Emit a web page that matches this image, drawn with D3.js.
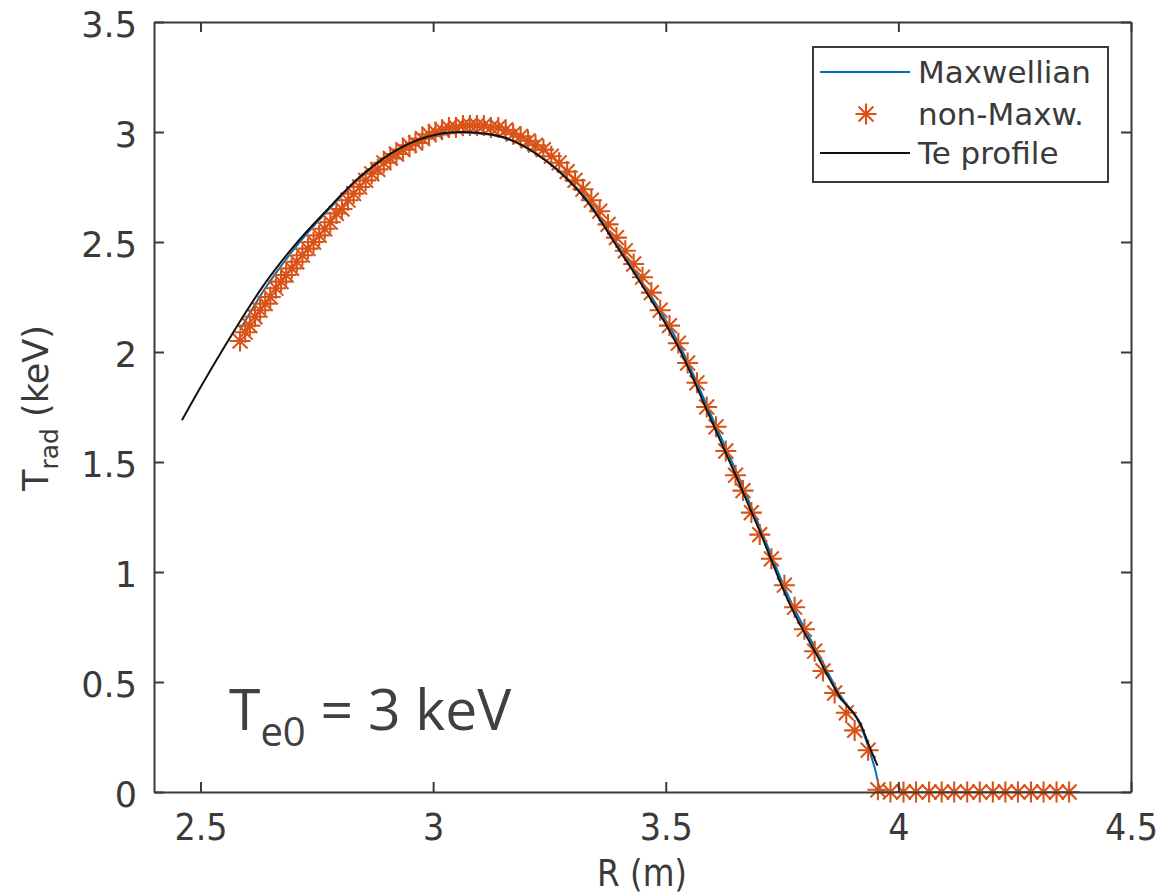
<!DOCTYPE html>
<html>
<head>
<meta charset="utf-8">
<script src="https://cdn.jsdelivr.net/npm/d3@7"></script>
<style>
  body { margin: 0; background: #fff; }
</style>
</head>
<body>
<div id="chart"></div>
<script>
// tick labels
var xTicks = [2.5, 3, 3.5, 4, 4.5];
var yTicks = [0, 0.5, 1, 1.5, 2, 2.5, 3, 3.5];

// Te profile (black line)
var teR = [2.46, 2.50, 2.556, 2.60, 2.628, 2.699, 2.771, 2.842, 2.914, 2.986, 3.03, 3.064, 3.10, 3.15,
  3.222, 3.272, 3.329, 3.401, 3.45, 3.53, 3.60, 3.655, 3.701, 3.766, 3.823, 3.874, 3.92, 3.938, 3.955];
var teT = [1.69, 1.84, 2.04, 2.19, 2.28, 2.477, 2.644, 2.795, 2.909, 2.977, 2.997, 3.0, 2.995, 2.977,
  2.90, 2.818, 2.69, 2.46, 2.30, 2.01, 1.68, 1.417, 1.19, 0.856, 0.629, 0.432, 0.303, 0.205, 0.12];

// Maxwellian (blue line)
var maxR = [2.585, 2.63, 2.70, 2.77, 2.84, 2.91, 2.99, 3.06, 3.10, 3.15, 3.22, 3.27, 3.33, 3.40, 3.45,
  3.53, 3.60, 3.655, 3.70, 3.77, 3.825, 3.875, 3.92, 3.949, 3.962, 3.975];
var maxT = [2.10, 2.26, 2.465, 2.635, 2.785, 2.90, 2.972, 2.998, 2.993, 2.975, 2.905, 2.825, 2.695, 2.475, 2.315,
  2.03, 1.70, 1.44, 1.215, 0.86, 0.64, 0.44, 0.295, 0.11, 0.01, 0];

// non-Maxwellian (stars)
var nmR = [2.585, 2.596, 2.606, 2.617, 2.628, 2.639, 2.650, 2.662, 2.673, 2.684, 2.696, 2.707, 2.719, 2.731,
  2.743, 2.755, 2.767, 2.779, 2.792, 2.804, 2.817, 2.829, 2.842, 2.855, 2.868, 2.881, 2.894, 2.908, 2.921,
  2.935, 2.949, 2.962, 2.977, 2.991, 3.005, 3.019, 3.034, 3.049, 3.064, 3.079, 3.094, 3.109, 3.124, 3.140,
  3.156, 3.172, 3.188, 3.204, 3.220, 3.237, 3.254, 3.271, 3.288, 3.305, 3.322, 3.340, 3.358, 3.376, 3.394,
  3.413, 3.431, 3.450, 3.469, 3.488, 3.508, 3.527, 3.547, 3.567, 3.588, 3.608, 3.629, 3.650, 3.666, 3.684,
  3.702, 3.727, 3.755, 3.777, 3.798, 3.820, 3.838, 3.863, 3.888, 3.906, 3.935, 3.956, 3.983, 4.011, 4.038,
  4.066, 4.093, 4.120, 4.148, 4.175, 4.203, 4.230, 4.257, 4.285, 4.312, 4.340, 4.367];
var nmT = [2.05, 2.09, 2.12, 2.16, 2.19, 2.22, 2.25, 2.29, 2.32, 2.35, 2.38, 2.41, 2.44, 2.47,
  2.50, 2.53, 2.56, 2.59, 2.63, 2.65, 2.69, 2.72, 2.75, 2.78, 2.81, 2.83, 2.86, 2.88, 2.90,
  2.92, 2.94, 2.95, 2.97, 2.99, 3.00, 3.01, 3.02, 3.02, 3.03, 3.03, 3.03, 3.03, 3.02, 3.02,
  3.01, 2.99, 2.98, 2.96, 2.94, 2.92, 2.89, 2.86, 2.82, 2.78, 2.74, 2.69, 2.64, 2.58, 2.52,
  2.46, 2.40, 2.34, 2.27, 2.19, 2.12, 2.04, 1.95, 1.86, 1.75, 1.66, 1.55, 1.44, 1.37, 1.27,
  1.17, 1.06, 0.94, 0.84, 0.74, 0.64, 0.55, 0.45, 0.36, 0.28, 0.19, 0.01, 0, 0, 0,
  0, 0, 0, 0, 0, 0, 0, 0, 0, 0, 0, 0];

var seriesNames = ["Maxwellian", "non-Maxw.", "Te profile"];

var blue = "#0072BD", orange = "#D95319", black = "#111";
var axisColor = "#3a3a3a";

var width = 1161, height = 896;
var svg = d3.select("#chart").append("svg")
    .attr("width", width)
    .attr("height", height)
    .style("background", "#fff");

var x = d3.scaleLinear().domain([2.4, 4.5]).range([154, 1131]);
var y = d3.scaleLinear().domain([0, 3.5]).range([792, 22]);

function zip(a, b) {
  return a.map(function(d, i) { return [d, b[i]]; });
}

// asterisk marker like matlab '*'
function starPath(r) {
  var a = r * 0.7071;
  return "M" + (-r) + ",0L" + r + ",0M0," + (-r) + "L0," + r +
    "M" + (-a) + "," + (-a) + "L" + a + "," + a + "M" + (-a) + "," + a + "L" + a + "," + (-a);
}

var line = d3.line()
    .curve(d3.curveMonotoneX)
    .x(function(d) { return x(d[0]); })
    .y(function(d) { return y(d[1]); });

// Maxwellian
svg.append("path")
    .datum(zip(maxR, maxT))
    .attr("d", line)
    .attr("fill", "none")
    .attr("stroke", blue)
    .attr("stroke-width", 2);

// non-Maxwellian stars
svg.selectAll(".star")
    .data(zip(nmR, nmT))
    .enter().append("path")
    .attr("class", "star")
    .attr("d", starPath(10.5))
    .attr("transform", function(d) { return "translate(" + x(d[0]) + "," + y(d[1]) + ")"; })
    .attr("fill", "none")
    .attr("stroke", orange)
    .attr("stroke-width", 2.1);

// Te profile
svg.append("path")
    .datum(zip(teR, teT))
    .attr("d", line)
    .attr("fill", "none")
    .attr("stroke", black)
    .attr("stroke-width", 2);

// axes (box with inward ticks)
function styleAxis(g) {
  g.select(".domain").attr("stroke", axisColor).attr("stroke-width", 2);
  g.selectAll(".tick line").attr("stroke", axisColor).attr("stroke-width", 2);
}

var xAxis = svg.append("g")
    .attr("transform", "translate(0," + y(0) + ")")
    .call(d3.axisBottom(x).tickValues(xTicks).tickSize(-10).tickSizeOuter(0).tickFormat(d3.format("")));
styleAxis(xAxis);
xAxis.selectAll(".tick text")
    .attr("y", 48)
    .attr("dy", 0)
    .attr("transform", "scale(0.88,1)")
    .style("font-family", "DejaVu Sans")
    .style("font-size", "38px")
    .attr("fill", axisColor);

svg.append("g")
    .attr("transform", "translate(0," + y(3.5) + ")")
    .call(d3.axisTop(x).tickValues(xTicks).tickSize(-10).tickSizeOuter(0).tickFormat(""))
    .call(styleAxis);

var yAxis = svg.append("g")
    .attr("transform", "translate(" + x(2.4) + ",0)")
    .call(d3.axisLeft(y).tickValues(yTicks).tickSize(-10).tickSizeOuter(0).tickFormat(d3.format("")));
styleAxis(yAxis);
yAxis.selectAll(".tick text")
    .attr("x", -17)
    .attr("dy", "0.4em")
    .style("font-family", "DejaVu Sans")
    .style("font-size", "35px")
    .attr("fill", axisColor);

svg.append("g")
    .attr("transform", "translate(" + x(4.5) + ",0)")
    .call(d3.axisRight(y).tickValues(yTicks).tickSize(-10).tickSizeOuter(0).tickFormat(""))
    .call(styleAxis);

// axis titles
svg.append("text")
    .attr("transform", "translate(642,886) scale(0.88,1)")
    .attr("text-anchor", "middle")
    .style("font-family", "DejaVu Sans")
    .style("font-size", "37px")
    .attr("fill", axisColor)
    .text("R (m)");

var yTitle = svg.append("text")
    .attr("transform", "translate(48,408) rotate(-90)")
    .attr("text-anchor", "middle")
    .style("font-family", "DejaVu Sans")
    .style("font-size", "35px")
    .attr("fill", axisColor);
yTitle.append("tspan").text("T");
yTitle.append("tspan").attr("dy", 10).style("font-size", "25px").text("rad");
yTitle.append("tspan").attr("dy", -10).text(" (keV)");

// annotation
var note = svg.append("text")
    .attr("x", 229)
    .attr("y", 730)
    .style("font-family", "Open Sans")
    .style("font-size", "57px")
    .attr("fill", "#404040");
note.append("tspan").text("T");
note.append("tspan").attr("dy", 16).style("font-size", "40px").text("e0");
note.append("tspan").attr("dy", -16).text(" = 3 keV");

// legend
var legend = svg.append("g");
legend.append("rect")
    .attr("x", 813).attr("y", 47)
    .attr("width", 295).attr("height", 135)
    .attr("fill", "#fff")
    .attr("stroke", axisColor)
    .attr("stroke-width", 2);

var rowsY = [72, 114, 153];
seriesNames.forEach(function(name, i) {
  var ry = rowsY[i];
  if (i === 1) {
    legend.append("path")
        .attr("d", starPath(10.5))
        .attr("transform", "translate(866," + ry + ")")
        .attr("fill", "none")
        .attr("stroke", orange)
        .attr("stroke-width", 2.1);
  } else {
    legend.append("line")
        .attr("x1", 820).attr("x2", 910)
        .attr("y1", ry).attr("y2", ry)
        .attr("stroke", i === 0 ? blue : black)
        .attr("stroke-width", 2);
  }
  legend.append("text")
      .attr("x", 918)
      .attr("y", ry + 11)
      .style("font-family", "DejaVu Sans")
      .style("font-size", "31px")
      .attr("fill", axisColor)
      .text(name);
});
</script>
</body>
</html>
